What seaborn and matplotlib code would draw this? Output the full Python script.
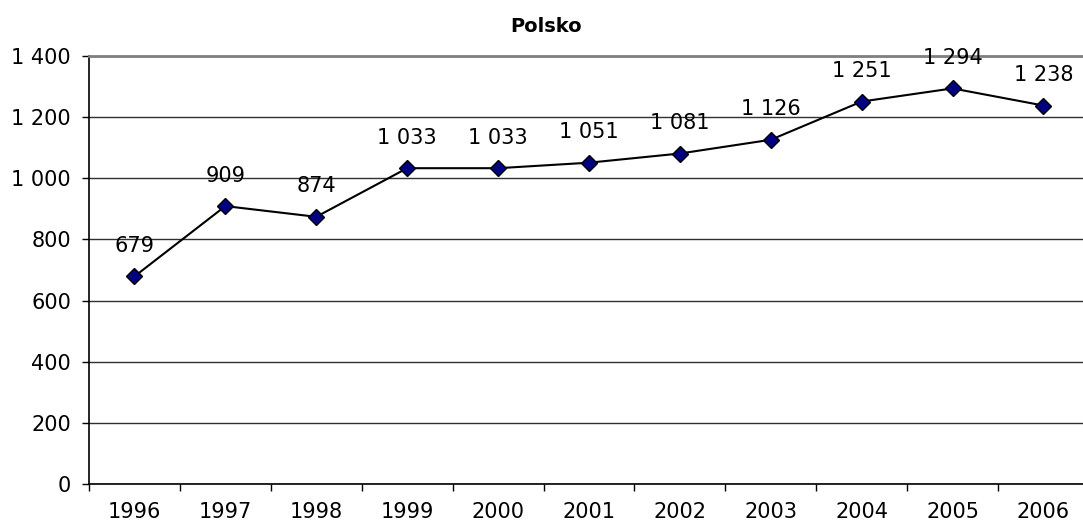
import matplotlib
matplotlib.use("Agg")
import matplotlib.pyplot as plt
import seaborn as sns
import pandas as pd
import numpy as np

years = ["1996", "1997", "1998", "1999", "2000", "2001", "2002", "2003", "2004", "2005", "2006"]
values = [679, 909, 874, 1033, 1033, 1051, 1081, 1126, 1251, 1294, 1238]
title = "Polsko"
y_ticks = [0, 200, 400, 600, 800, 1000, 1200, 1400]

def fmt(v):
    return f"{v:,}".replace(",", " ")

sns.set_theme(style="white")
plt.rcParams['font.family'] = ['DejaVu Sans']

fig = plt.figure(figsize=(10.83, 5.24), dpi=100)
ax = fig.add_axes([89 / 1083, 40 / 524, 11 * 90.9 / 1083, 428 / 524])

df = pd.DataFrame({"pos": np.arange(len(years)), "val": values})
sns.lineplot(data=df, x="pos", y="val", ax=ax, color="black", linewidth=1.5,
             marker="D", markersize=8, markerfacecolor="#000080",
             markeredgecolor="black", markeredgewidth=1)

for x, v in zip(df["pos"], values):
    ax.annotate(fmt(v), (x, v), xytext=(0, 22), textcoords="offset points",
                ha="center", va="center", fontsize=15, color="black")

ax.set_xlim(-0.5, len(years) - 0.5)
ax.set_ylim(0, 1400)
ax.set_yticks(y_ticks)
ax.set_yticklabels([fmt(t) for t in y_ticks])
ax.set_xticks(np.arange(len(years)))
ax.set_xticklabels(years)
ax.set_xticks(np.arange(len(years)) - 0.5, minor=True)
ax.set_xlabel("")
ax.set_ylabel("")

ax.tick_params(axis="x", which="major", length=0, pad=13, labelsize=15, colors="black")
ax.tick_params(axis="x", which="minor", length=5, width=1, color="black", direction="out", bottom=True)
ax.tick_params(axis="y", which="major", length=5, width=1, color="black", direction="out",
               left=True, pad=8, labelsize=15, labelcolor="black")

ax.yaxis.grid(True, color="#303030", linewidth=1)
ax.set_axisbelow(True)
for s in ["left", "bottom"]:
    ax.spines[s].set_color("black")
    ax.spines[s].set_linewidth(1.2)
ax.spines["right"].set_visible(False)
ax.spines["top"].set_color("#808080")
ax.spines["top"].set_linewidth(2)

fig.text(546 / 1083, 1 - 26 / 524, title, ha="center", va="center",
         fontsize=14, fontweight="bold", color="black")

fig.savefig("out.png", dpi=100)
